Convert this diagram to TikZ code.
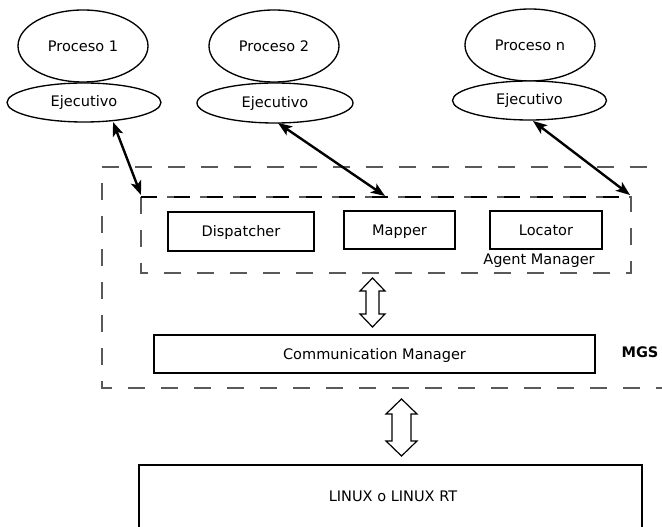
\documentclass[tikz,border=0pt]{standalone}
\usepackage{fontspec}
\setmainfont{DejaVu Sans}
\usetikzlibrary{shapes.geometric,arrows.meta}
\begin{document}
\begin{tikzpicture}[x=0.75pt,y=-0.75pt,
  every node/.style={font=\fontsize{10.9pt}{13pt}\selectfont},
  proc/.style={draw,ellipse,line width=1pt,inner sep=0pt,minimum width=97.5pt,minimum height=54pt},
  exec/.style={draw,ellipse,fill=white,line width=1pt,inner sep=0pt,minimum width=115.5pt,minimum height=29.25pt},
  modbox/.style={draw,rectangle,line width=1.1pt,inner sep=0pt,minimum height=28.5pt,text height=7.9pt,text depth=0pt},
  link/.style={line width=1.8pt,{Stealth[length=10.5pt,width=8pt,inset=2.5pt]}-{Stealth[length=10.5pt,width=8pt,inset=2.5pt]}},
  thindash/.style={draw=black!65,line width=0.9pt,dash pattern=on 12.75pt off 12pt},
  thickdash/.style={draw=black,line width=1.8pt,dash pattern=on 12pt off 12.75pt},
  hollow/.style={draw,fill=white,line width=0.9pt,line join=miter}]
\useasboundingbox (0,0) rectangle (662,527);
\clip (0,0) rectangle (662,527);

% processes with their executives
\node[proc] (p1) at (83,46) {Proceso 1};
\node[exec] (e1) at (84,102.5) {Ejecutivo};
\node[proc] (p2) at (274,46) {Proceso 2};
\node[exec,minimum width=117pt,minimum height=30pt] (e2) at (275,103) {Ejecutivo};
\node[proc] (pn) at (530,45) {Proceso n};
\node[exec] (en) at (529.5,100.5) {Ejecutivo};

% MGS container (open to the right) and Agent Manager
\draw[thindash] (680,167) -- (102,167) -- (102,388) -- (680,388);
\draw[thindash] (141,197) rectangle (631,273);
\draw[thickdash] (141,197) -- (631,197);

\node[modbox,minimum width=109.5pt,minimum height=29.25pt] (disp) at (241,231.5) {Dispatcher};
\node[modbox,minimum width=83.25pt] (map) at (399.5,230) {Mapper};
\node[modbox,minimum width=84pt] (loc) at (546,230) {Locator};
\node (am) at (539,261) {Agent Manager};

\node[modbox,minimum width=330.75pt] (comm) at (374.5,354) {Communication Manager};
\node[font=\fontsize{10.9pt}{13pt}\selectfont\bfseries] (mgs) at (640,352) {MGS};

% operating system layer
\node[draw,rectangle,line width=1.1pt,inner sep=0pt,minimum width=377.25pt,minimum height=60pt] (os) at (390.5,505) {};
\node (ostxt) at (393,496) {LINUX o LINUX RT};

% links between executives and the Agent Manager
\coordinate (s1) at (113,122);
\coordinate (s2) at (278,123);
\coordinate (sn) at (533,121);
\coordinate (t1) at (141,195);
\coordinate (t2) at (385,196);
\coordinate (tn) at (630,195);
\draw[link] (s1) -- (t1);
\draw[link] (s2) -- (t2);
\draw[link] (sn) -- (tn);

% hollow double arrows
\coordinate (ha1) at (372.5,278);
\draw[hollow] (ha1) -- ++(12.5,13) -- ++(-6,0) -- ++(0,23) -- ++(6,0) -- ++(-12.5,13)
  -- ++(-12.5,-13) -- ++(6,0) -- ++(0,-23) -- ++(-6,0) -- cycle;
\coordinate (ha2) at (401.5,399);
\draw[hollow] (ha2) -- ++(15.5,15) -- ++(-6,0) -- ++(0,27) -- ++(6,0) -- ++(-15.5,15)
  -- ++(-15.5,-15) -- ++(6,0) -- ++(0,-27) -- ++(-6,0) -- cycle;
\end{tikzpicture}
\end{document}
